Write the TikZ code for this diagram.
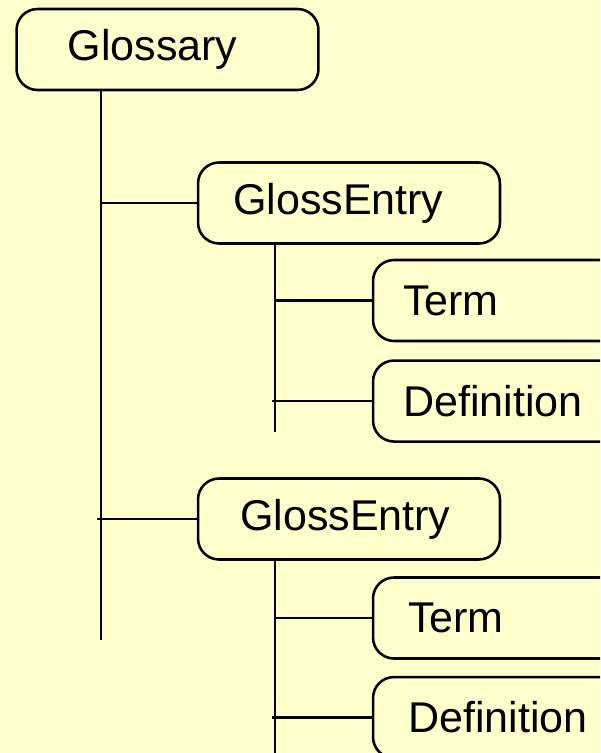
\documentclass[tikz,border=0pt]{standalone}
\usepackage{fontspec}
\setmainfont{Liberation Sans}
\usepackage{tikz}
\usetikzlibrary{positioning}
\definecolor{paper}{RGB}{255,255,204}

\begin{document}
\begin{tikzpicture}[x=0.02cm, y=-0.02cm, line width=1.45pt,
    box/.style={draw, fill=paper, rounded corners=0.42cm, minimum height=1.62cm,
      align=left, inner xsep=#1, text width={6.04cm-2*#1},
      font=\fontsize{24.5}{29}\selectfont}]
  \useasboundingbox (0,0) rectangle (600,753);
  \fill[paper] (0,0) rectangle (600,753);
  \clip (0,0) rectangle (600,753);

  % root and its two entries
  \node[box=1.02cm] (gloss) at (167.5,49.5) {Glossary};
  \node[box=0.70cm] (entryA) at (349,203) {GlossEntry};
  \node[box=0.84cm] (entryB) at (349,519) {GlossEntry};

  % leaves
  \node[box=0.60cm] (termA) at (524,300.5) {Term};
  \node[box=0.60cm, below=0.34cm of termA] (defA) {Definition};
  \node[box=0.70cm] (termB) at (524,618) {Term};
  \node[box=0.70cm, below=0.32cm of termB] (defB) {Definition};

  % trunks
  \coordinate (trunk0) at (101,640);
  \coordinate (trunkA) at (275,432);
  \coordinate (trunkB) at (275,760);
  \draw (gloss.south -| trunk0) -- (trunk0);
  \draw (entryA.south -| trunkA) -- (trunkA);
  \draw (entryB.south -| trunkB) -- (trunkB);

  % branches
  \draw (entryA.west) -- (entryA.west -| trunk0);
  \draw (entryB.west) -- ([xshift=-0.08cm]entryB.west -| trunk0);
  \draw (termA.west) -- (termA.west -| trunkA);
  \draw (defA.west) -- ([xshift=-0.06cm]defA.west -| trunkA);
  \draw (termB.west) -- (termB.west -| trunkB);
  \draw (defB.west) -- ([xshift=-0.06cm]defB.west -| trunkB);
\end{tikzpicture}
\end{document}
